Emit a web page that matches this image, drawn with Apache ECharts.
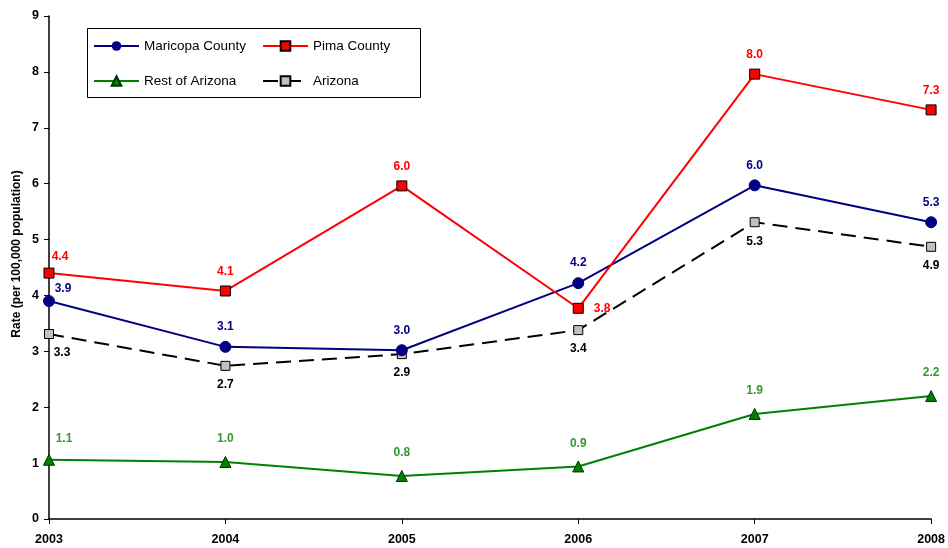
<!DOCTYPE html>
<html>
<head>
<meta charset="utf-8">
<script src="https://cdn.jsdelivr.net/npm/echarts@6/dist/echarts.min.js"></script>
<style>
html,body{margin:0;padding:0;background:#fff;}
#chart{width:948px;height:548px;}
</style>
</head>
<body>
<div id="chart"></div>
<script>
const years = ['2003','2004','2005','2006','2007','2008'];
const maricopa = [3.9, 3.08, 3.02, 4.22, 5.97, 5.31];
const pima = [4.4, 4.08, 5.96, 3.77, 7.96, 7.32];
const restAZ = [1.06, 1.02, 0.77, 0.94, 1.88, 2.2];
const arizona = [3.31, 2.74, 2.95, 3.38, 5.31, 4.87];
const maricopaLabels = ['3.9','3.1','3.0','4.2','6.0','5.3'];
const pimaLabels = ['4.4','4.1','6.0','3.8','8.0','7.3'];
const restLabels = ['1.1','1.0','0.8','0.9','1.9','2.2'];
const arizonaLabels = ['3.3','2.7','2.9','3.4','5.3','4.9'];
const yTitle = 'Rate (per 100,000 population)';

const FONT = '"Liberation Sans", Arial, sans-serif';

function build(values, labels, overrides){
  return values.map((v,i)=>{
    const item = {value: v, label: {formatter: labels[i]}};
    if (overrides[i]) Object.assign(item.label, overrides[i]);
    return item;
  });
}

const chart = echarts.init(document.getElementById('chart'));
const labelBase = {show:true, fontFamily:FONT, fontWeight:'bold', fontSize:12};
const legendText = {color:'#000', fontFamily:FONT, fontSize:13.5, padding:[0,0,0,0]};

const option = {
  animation:false,
  backgroundColor:'#fff',
  grid:{left:49, right:16, top:16, bottom:29},
  xAxis:{
    type:'category', data:years, boundaryGap:false,
    axisLine:{lineStyle:{color:'#000', width:1.5}},
    axisTick:{show:true, length:5, lineStyle:{color:'#000'}},
    axisLabel:{color:'#000', fontFamily:FONT, fontWeight:'bold', fontSize:12.5, margin:14},
    splitLine:{show:false}
  },
  yAxis:{
    type:'value', min:0, max:9, interval:1,
    axisLine:{show:true, lineStyle:{color:'#000', width:1.5}},
    axisTick:{show:true, length:5, lineStyle:{color:'#000'}},
    axisLabel:{color:'#000', fontFamily:FONT, fontWeight:'bold', fontSize:12.5, margin:10},
    splitLine:{show:false}
  },
  legend:[
    {left:93, top:39, padding:0, orient:'vertical', itemGap:21, itemWidth:45, itemHeight:12,
     textStyle:legendText,
     data:['Maricopa County','Rest of Arizona']},
    {left:262, top:39, padding:0, orient:'vertical', itemGap:21, itemWidth:45, itemHeight:12,
     textStyle:legendText,
     data:['Pima County','Arizona']}
  ],
  graphic:[
    {type:'rect', shape:{x:87.5, y:28.5, width:333, height:69}, style:{fill:'none', stroke:'#000', lineWidth:1}, z:-1},
    {type:'text', x:17, y:254, rotation:Math.PI/2,
     style:{text:yTitle, fill:'#000', font:'bold 12px "Liberation Sans", Arial, sans-serif', textAlign:'center', textVerticalAlign:'middle'}}
  ],
  series:[
    {
      name:'Maricopa County', type:'line', z:3,
      data: build(maricopa, maricopaLabels, {0:{position:'top', offset:[14,8]}}),
      symbol:'circle', symbolSize:11,
      lineStyle:{color:'#000080', width:2},
      itemStyle:{color:'#000080', borderColor:'#000080'},
      label:Object.assign({}, labelBase, {color:'#000080', position:'top', distance:8})
    },
    {
      name:'Pima County', type:'line', z:4,
      data: build(pima, pimaLabels, {0:{position:'top', offset:[11,3]}, 3:{position:'right', distance:10}}),
      symbol:'rect', symbolSize:10,
      lineStyle:{color:'#ff0000', width:2},
      itemStyle:{color:'#ff0000', borderColor:'#000', borderWidth:1},
      label:Object.assign({}, labelBase, {color:'#ff0000', position:'top', distance:8})
    },
    {
      name:'Rest of Arizona', type:'line', z:3,
      data: build(restAZ, restLabels, {0:{position:'top', offset:[15,2]}}),
      symbol:'triangle', symbolSize:11,
      lineStyle:{color:'#008000', width:2},
      itemStyle:{color:'#008000', borderColor:'#003300', borderWidth:1},
      label:Object.assign({}, labelBase, {color:'#339933', position:'top', distance:11})
    },
    {
      name:'Arizona', type:'line', z:2,
      data: build(arizona, arizonaLabels, {0:{position:'bottom', offset:[13,0]}}),
      symbol:'rect', symbolSize:9,
      lineStyle:{color:'#000', width:2, type:[15,8]},
      itemStyle:{color:'#c0c0c0', borderColor:'#000', borderWidth:1},
      label:Object.assign({}, labelBase, {color:'#000', position:'bottom', distance:8})
    }
  ]
};
chart.setOption(option);
</script>
</body>
</html>
